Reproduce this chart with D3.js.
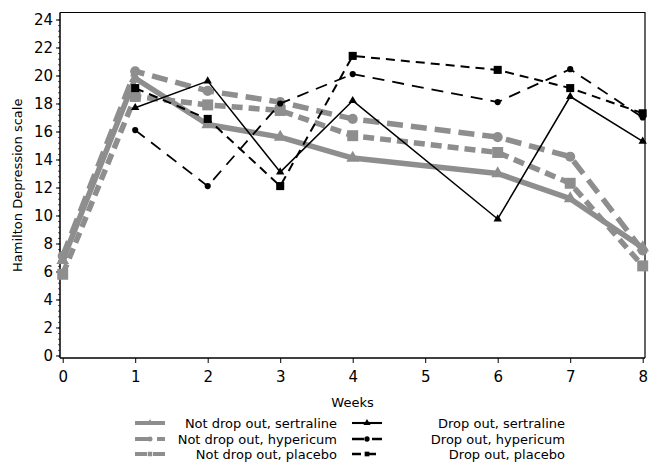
<!DOCTYPE html>
<html>
<head>
<meta charset="utf-8">
<script src="https://cdn.jsdelivr.net/npm/d3@7"></script>
<style>
  body { margin: 0; background: #fff; }
  svg { display: block; font-family: "DejaVu Sans", Verdana, sans-serif; }
</style>
</head>
<body>
<div id="chart"></div>
<script>
// data
let weeks = [0, 1, 2, 3, 4, 6, 7, 8];
let dropWeeks = [1, 2, 3, 4, 6, 7, 8];

let notDropSertraline = [6.8, 19.8, 16.5, 15.6, 14.1, 13.0, 11.2, 7.7];
let notDropHypericum  = [7.1, 20.3, 18.9, 18.1, 16.9, 15.6, 14.2, 7.5];
let notDropPlacebo    = [5.8, 18.5, 17.9, 17.5, 15.7, 14.5, 12.3, 6.4];

let dropSertraline = [17.7, 19.6, 13.1, 18.2, 9.75, 18.5, 15.3];
let dropHypericum  = [16.1, 12.1, 18.0, 20.1, 18.1, 20.45, 17.0];
let dropPlacebo    = [19.1, 16.9, 12.1, 21.4, 20.4, 19.1, 17.3];

let xTicks = [0, 1, 2, 3, 4, 5, 6, 7, 8];
let yTicks = [0, 2, 4, 6, 8, 10, 12, 14, 16, 18, 20, 22, 24];

let series = [
  { name: "Not drop out, sertraline", x: weeks, y: notDropSertraline, color: "#8e8e8e", width: 5.5, dash: null,    marker: "triangle", size: 70 },
  { name: "Not drop out, hypericum",  x: weeks, y: notDropHypericum,  color: "#8e8e8e", width: 5.5, dash: "16,8",  marker: "circle",   size: 80 },
  { name: "Not drop out, placebo",    x: weeks, y: notDropPlacebo,    color: "#8e8e8e", width: 5.5, dash: "11,6",  marker: "square",   size: 120 },
  { name: "Drop out, sertraline",     x: dropWeeks, y: dropSertraline, color: "#000", width: 1.5, dash: null,   marker: "triangle", size: 30 },
  { name: "Drop out, hypericum",      x: dropWeeks, y: dropHypericum,  color: "#000", width: 1.8, dash: "12,8", marker: "circle",   size: 30 },
  { name: "Drop out, placebo",        x: dropWeeks, y: dropPlacebo,    color: "#000", width: 2,   dash: "9,6",  marker: "square",   size: 65 }
];

////////////////////////////////////////////////////////////////////////
// layout

let width = 652, height = 463;
let frame = { left: 60, right: 645, top: 12.5, bottom: 358 };

let xScale = d3.scaleLinear().domain([0, 8]).range([62.7, 642.7]);
let yScale = d3.scaleLinear().domain([-0.18, 24.5]).range([frame.bottom, frame.top]);

let symbolTypes = {
  triangle: d3.symbolTriangle,
  circle: d3.symbolCircle,
  square: d3.symbolSquare
};

let svg = d3.select("#chart").append("svg")
  .attr("width", width)
  .attr("height", height);

// frame (top and right)
svg.append("path")
  .attr("d", "M" + frame.left + "," + frame.top + "H" + frame.right + "V" + frame.bottom)
  .attr("fill", "none")
  .attr("stroke", "#000")
  .attr("stroke-width", 1.2);

// y axis with minor ticks
let minor = d3.range(0, 24.01, 0.4);
svg.append("g")
  .attr("transform", "translate(" + frame.left + ",0)")
  .call(d3.axisLeft(yScale).tickValues(minor).tickSize(2).tickFormat(""))
  .call(g => g.select(".domain").remove())
  .call(g => g.selectAll("line").attr("stroke", "#555"));

let yAxis = svg.append("g")
  .attr("transform", "translate(" + frame.left + ",0)")
  .call(d3.axisLeft(yScale).tickValues(yTicks).tickSize(4).tickSizeOuter(0).tickPadding(3));
yAxis.select(".domain").attr("d", "M0," + frame.top + "V" + frame.bottom).attr("stroke-width", 1.5);
yAxis.selectAll("text").attr("font-size", 15).attr("font-family", "DejaVu Sans, sans-serif").attr("fill", "#000");

let xAxis = svg.append("g")
  .attr("transform", "translate(0," + frame.bottom + ")")
  .call(d3.axisBottom(xScale).tickValues(xTicks).tickSize(5).tickSizeOuter(0).tickPadding(8));
xAxis.select(".domain").attr("d", "M" + frame.left + ",0H" + frame.right).attr("stroke-width", 1.5);
xAxis.selectAll("text").attr("font-size", 15).attr("font-family", "DejaVu Sans, sans-serif").attr("fill", "#000");

// axis titles
svg.append("text")
  .attr("transform", "translate(22," + ((frame.top + frame.bottom) / 2) + ") rotate(-90)")
  .attr("text-anchor", "middle")
  .attr("font-size", 13)
  .text("Hamilton Depression scale");

svg.append("text")
  .attr("x", (frame.left + frame.right) / 2)
  .attr("y", 407)
  .attr("text-anchor", "middle")
  .attr("font-size", 13)
  .text("Weeks");

////////////////////////////////////////////////////////////////////////
// series

let line = d3.line().x(d => xScale(d[0])).y(d => yScale(d[1]));

series.forEach(function(s) {
  let pts = s.x.map((w, i) => [w, s.y[i]]);
  let g = svg.append("g");
  g.append("path")
    .attr("d", line(pts))
    .attr("fill", "none")
    .attr("stroke", s.color)
    .attr("stroke-width", s.width)
    .attr("stroke-dasharray", s.dash)
    .attr("stroke-linejoin", "round");
  g.selectAll(".m").data(pts).enter().append("path")
    .attr("transform", d => "translate(" + xScale(d[0]) + "," + yScale(d[1]) + ")")
    .attr("d", d3.symbol().type(symbolTypes[s.marker]).size(s.size))
    .attr("fill", s.color);
});

////////////////////////////////////////////////////////////////////////
// legend

let legendRows = [423, 439, 454];
series.forEach(function(s, i) {
  let row = i % 3;
  let right = i < 3;
  let y = legendRows[row];
  let x0 = right ? 135 : 352, x1 = right ? 165 : 382;
  let g = svg.append("g");
  g.append("line")
    .attr("x1", x0).attr("x2", x1).attr("y1", y).attr("y2", y)
    .attr("stroke", s.color)
    .attr("stroke-width", right ? 4 : s.width + 0.6)
    .attr("stroke-dasharray", right ? (s.dash ? (i === 1 ? "17,5" : "12,6") : null) : s.dash);
  g.append("path")
    .attr("transform", "translate(" + ((x0 + x1) / 2) + "," + y + ")")
    .attr("d", d3.symbol().type(symbolTypes[s.marker]).size(right ? 20 : 22))
    .attr("fill", s.color);
  g.append("text")
    .attr("x", right ? 337 : 565)
    .attr("y", y)
    .attr("dy", "0.35em")
    .attr("text-anchor", "end")
    .attr("font-size", 13)
    .text(s.name);
});
</script>
</body>
</html>
